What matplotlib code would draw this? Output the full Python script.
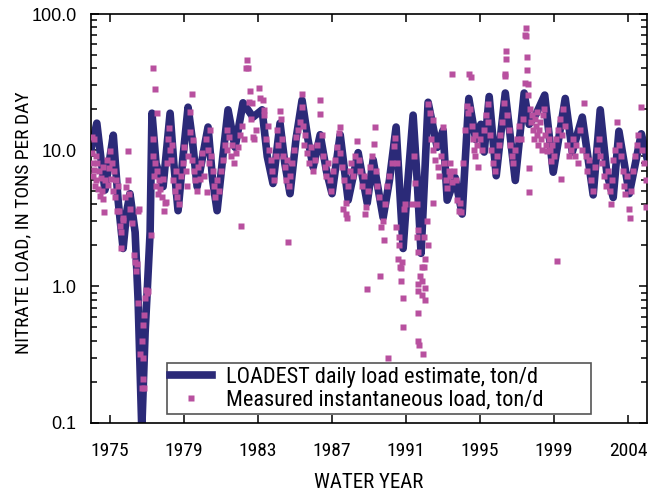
import matplotlib
matplotlib.use('Agg')
import matplotlib.pyplot as plt
from matplotlib.ticker import LogLocator, NullFormatter

NARROW = ['Roboto Condensed', 'DejaVu Sans']
REGULAR = ['Liberation Sans', 'DejaVu Sans']

NAVY = '#2b2a78'
PINK = '#b8509f'

# LOADEST daily load estimate (decimal water year, ton/d)
est_year = [1974.0, 1974.29, 1974.5, 1974.73, 1974.95, 1975.18, 1975.44, 1975.71,
            1975.9, 1976.08, 1976.36, 1976.52, 1976.72, 1976.9, 1976.99, 1977.17,
            1977.27, 1977.49, 1977.87, 1978.25, 1978.45, 1978.68, 1978.95, 1979.22,
            1979.45, 1979.71, 1980.3, 1980.55, 1980.79, 1981.1, 1981.38, 1981.76,
            1982.19, 1982.73, 1983.22, 1983.5, 1983.81, 1984.19, 1984.45, 1984.73,
            1985.05, 1985.38, 1985.7, 1985.98, 1986.36, 1986.7, 1987.0, 1987.44,
            1987.87, 1988.41, 1988.9, 1989.22, 1989.76, 1990.1, 1990.46, 1990.84,
            1991.1, 1991.38, 1991.6, 1991.81, 1992.19, 1992.68, 1993.0, 1993.22,
            1993.65, 1994.03, 1994.39, 1994.76, 1995.04, 1995.22, 1995.49, 1995.87,
            1996.36, 1996.9, 1997.38, 1997.65, 1998.03, 1998.49, 1998.95, 1999.6,
            1999.98, 2000.52, 2001.11, 2001.49, 2001.84, 2002.19, 2002.5, 2003.06,
            2003.71, 2004.0]
est_load = [10.5, 15.8, 9.0, 5.1, 8.0, 12.9, 4.3, 1.9,
            3.5, 4.8, 2.5, 0.8, 0.09, 0.46, 0.8, 2.5,
            18.7, 8.0, 5.4, 18.7, 8.0, 3.6, 9.0, 20.7,
            12.0, 5.4, 14.8, 6.0, 3.6, 9.0, 19.8, 10.5,
            22.3, 17.5, 19.8, 9.0, 5.7, 15.8, 8.0, 4.8,
            12.0, 23.3, 12.0, 7.5, 13.0, 7.0, 4.8, 13.0,
            4.3, 9.6, 4.1, 8.5, 3.2, 6.0, 14.8, 1.9,
            6.0, 18.1, 6.0, 1.75, 22.5, 10.5, 14.0, 4.3,
            6.3, 3.4, 24.0, 12.0, 15.5, 9.7, 24.8, 6.5,
            26.3, 6.0, 26.3, 15.5, 18.5, 25.4, 6.9, 24.0,
            9.7, 17.5, 4.7, 19.8, 6.9, 4.5, 13.8, 4.8,
            13.2, 9.0]

# measured instantaneous loads
meas_year = [
    1974.02, 1974.05, 1974.08, 1974.1, 1974.12, 1974.15, 1974.2, 1974.22, 1974.25, 1974.3,
    1974.35, 1974.4, 1974.45, 1974.5, 1974.55, 1974.6, 1974.65, 1974.7, 1974.75, 1974.82,
    1974.88, 1974.95, 1975.0, 1975.05, 1975.1, 1975.15, 1975.2, 1975.25, 1975.3, 1975.38,
    1975.45, 1975.5, 1975.55, 1975.6, 1975.62, 1975.68, 1975.72, 1975.8, 1975.88, 1975.96,
    1976.0, 1976.05, 1976.1, 1976.2, 1976.3, 1976.38, 1976.42, 1976.45, 1976.53, 1976.59,
    1976.54, 1976.95, 1977.07, 1976.9, 1976.84, 1976.8, 1976.72, 1976.63, 1976.8, 1976.77,
    1976.72, 1976.84, 1977.2, 1976.99,
    1977.35, 1977.44, 1977.53, 1979.42, 1979.33, 1979.5,
    1977.3, 1977.35, 1977.4, 1977.45, 1977.5, 1977.55, 1977.6, 1977.65, 1977.72, 1977.8,
    1977.85, 1977.9, 1978.0, 1978.05, 1978.1, 1978.15, 1978.2, 1978.25, 1978.3, 1978.35,
    1978.4, 1978.5, 1978.55, 1978.6, 1978.7, 1978.75, 1978.85, 1978.95, 1979.0, 1979.1,
    1979.15, 1979.2, 1979.3, 1979.45, 1979.55, 1979.6, 1979.7, 1979.75, 1979.85, 1979.9,
    1980.0, 1980.1, 1980.2, 1980.23, 1980.3, 1980.35, 1980.4, 1980.45, 1980.55, 1980.6,
    1980.7, 1980.8, 1980.9, 1981.0, 1981.1, 1981.2, 1981.3, 1981.35, 1981.45, 1981.55,
    1981.6, 1981.7, 1981.8, 1981.9, 1982.0, 1982.1, 1982.15, 1982.25, 1982.4, 1982.33,
    1982.47, 1982.57, 1982.5, 1982.65, 1982.6, 1982.75, 1982.8, 1982.9, 1983.05, 1983.13,
    1983.25, 1983.3, 1983.35, 1983.45, 1983.55, 1983.6, 1983.7, 1983.75, 1983.85, 1983.95,
    1984.05, 1984.1, 1984.2, 1984.22, 1984.3, 1984.35, 1984.45, 1984.5, 1984.55, 1984.6,
    1984.65, 1984.75, 1984.85, 1984.95, 1985.05, 1985.15, 1985.25, 1985.35, 1985.38, 1985.45,
    1985.5, 1985.55, 1985.65, 1985.75, 1985.85, 1985.95, 1986.1, 1986.2, 1986.33, 1986.37,
    1986.45, 1986.5, 1986.6, 1986.7, 1986.8, 1986.9, 1986.95, 1987.05, 1987.15, 1987.25,
    1987.35, 1987.42, 1987.45, 1987.55, 1987.6, 1987.65, 1987.75, 1987.8, 1987.78, 1987.85,
    1987.95, 1988.05, 1988.15, 1988.25, 1988.35, 1988.45, 1988.5, 1988.6, 1988.7, 1988.8,
    1988.85, 1988.88, 1988.95, 1989.05, 1989.15, 1989.25, 1989.3, 1989.35, 1989.45, 1989.55,
    1989.6, 1989.65, 1989.75, 1989.8, 1989.85, 1989.95, 1990.05, 1990.1, 1990.25, 1990.35,
    1990.4, 1990.45, 1990.5, 1990.55, 1990.6, 1990.62, 1990.65, 1990.7, 1990.72, 1990.8,
    1990.85, 1990.82, 1990.9, 1990.95,
    1991.31, 1991.45, 1991.49, 1991.58, 1991.67, 1991.67, 1991.67, 1991.67, 1991.67, 1991.58,
    1992.12, 1991.98, 1992.18, 1991.62, 1992.03, 1991.85, 1991.85, 1991.85, 1991.98, 1991.76,
    1992.0, 1992.04, 1991.71, 1991.89, 1992.21, 1992.3, 1992.48, 1992.48,
    1992.35, 1992.45, 1992.55, 1992.6, 1992.7, 1992.8, 1992.9, 1993.0, 1993.05, 1993.15,
    1993.2, 1993.3, 1993.35, 1993.4, 1993.47, 1993.5, 1993.6, 1993.7, 1993.75, 1993.85,
    1993.9, 1993.95,
    1994.1, 1994.2, 1994.3, 1994.35, 1994.41, 1994.45, 1994.5, 1994.55, 1994.6, 1994.65,
    1994.7, 1994.75, 1994.85, 1994.9, 1995.0, 1995.1, 1995.2, 1995.3, 1995.4, 1995.45,
    1995.55, 1995.6, 1995.7, 1995.8, 1995.9, 1996.0, 1996.1, 1996.2, 1996.3, 1996.33,
    1996.37, 1996.4, 1996.42, 1996.45, 1996.55, 1996.6, 1996.7, 1996.8, 1996.9, 1997.0,
    1997.1, 1997.2, 1997.3, 1997.45, 1997.48, 1997.5, 1997.52, 1997.55, 1997.45, 1997.6,
    1997.58, 1997.62, 1997.65, 1997.7, 1997.75, 1997.8, 1997.85, 1997.9, 1997.95, 1998.0,
    1998.05, 1998.1, 1998.15, 1998.2, 1998.25, 1998.3, 1998.35, 1998.4, 1998.45, 1998.5,
    1998.55, 1998.6, 1998.65, 1998.7, 1998.8, 1998.85, 1998.9, 1999.0, 1999.1, 1999.17,
    1999.2, 1999.3, 1999.35, 1999.4, 1999.5, 1999.6, 1999.7, 1999.8, 1999.9,
    2000.0, 2000.1, 2000.2, 2000.3, 2000.4, 2000.5, 2000.6, 2000.7, 2000.8, 2000.9,
    2001.0, 2001.1, 2001.2, 2001.3, 2001.4, 2001.5, 2001.6, 2001.7, 2001.8, 2001.9,
    2002.0, 2002.05, 2002.1, 2002.2, 2002.3, 2002.4, 2002.5, 2002.6, 2002.7, 2002.8,
    2002.85, 2002.95, 2003.05, 2003.1, 2003.15, 2003.25, 2003.35, 2003.45, 2003.55, 2003.7,
    2003.75, 2003.85, 2003.95, 2003.98]
meas_load = [
    9.5, 12.6, 8.0, 6.5, 12.0, 7.2, 5.5, 9.0, 6.0, 8.0,
    5.2, 7.0, 4.6, 6.3, 5.0, 7.5, 4.4, 3.5, 6.0, 8.5,
    5.6, 7.4, 9.8, 6.2, 8.0, 5.0, 7.0, 4.5, 6.0, 3.6,
    5.5, 3.6, 2.8, 2.5, 1.9, 3.2, 3.1, 4.5, 5.4, 9.8,
    6.0, 4.8, 3.7, 2.9, 1.7, 1.5, 1.3, 1.45, 3.6, 3.7,
    0.76, 0.94, 0.93, 0.82, 0.62, 0.52, 0.4, 0.32, 0.3, 0.21,
    0.18, 0.18, 2.4, 0.9,
    40.4, 28.0, 18.9, 25.7, 19.2, 11.9,
    12.0, 9.0, 6.5, 8.0, 5.5, 7.0, 4.8, 6.0, 5.2, 4.5,
    6.2, 3.6, 4.1, 4.2, 8.0, 12.0, 14.5, 10.0, 8.5, 11.0,
    6.0, 5.0, 7.0, 4.5, 5.5, 4.0, 6.5, 8.0, 10.5, 7.0,
    5.5, 9.0, 13.5, 8.5, 7.0, 6.0, 5.0, 7.5, 6.2, 8.0,
    9.5, 6.5, 12.0, 4.9, 10.0, 8.0, 14.0, 9.0, 7.0, 5.5,
    4.5, 6.0, 5.0, 7.0, 8.5, 11.0, 14.0, 10.0, 12.5, 9.0,
    11.0, 8.0, 9.5, 10.5, 13.0, 2.8, 15.0, 12.0, 45.9, 39.9,
    40.4, 27.2, 22.7, 22.1, 17.0, 12.5, 12.0, 14.0, 28.7, 24.2,
    23.3, 19.8, 18.0, 12.0, 15.0, 10.0, 8.5, 7.0, 6.0, 9.0,
    14.0, 11.0, 19.5, 17.0, 12.0, 9.0, 7.5, 6.0, 8.5, 2.13,
    5.5, 6.5, 8.0, 10.0, 12.5, 14.0, 16.0, 20.6, 26.0, 15.0,
    11.0, 13.0, 9.5, 8.0, 10.5, 7.0, 8.5, 11.0, 23.2, 18.5,
    13.0, 9.0, 7.5, 6.5, 8.0, 6.0, 5.0, 7.0, 8.5, 10.5,
    13.3, 14.7, 9.5, 7.5, 3.7, 6.0, 3.4, 3.2, 4.1, 5.5,
    7.0, 8.0, 6.5, 9.0, 11.6, 8.5, 7.0, 5.5, 6.5, 3.4,
    3.8, 0.95, 5.0, 7.5, 9.0, 11.2, 14.8, 7.0, 5.5, 4.5,
    1.2, 2.75, 3.0, 2.2, 4.0, 5.5, 0.3, 6.5, 8.0, 10.7,
    12.3, 2.75, 8.0, 1.6, 2.3, 2.0, 1.4, 1.1, 1.37, 1.5,
    0.82, 0.5, 3.7, 4.0,
    4.0, 9.0, 5.7, 4.0, 2.6, 0.93, 0.64, 0.4, 1.05, 2.3,
    3.0, 2.3, 2.0, 1.8, 1.6, 1.4, 1.1, 0.86, 1.4, 1.2,
    0.97, 0.8, 0.37, 0.32, 22.0, 18.7, 16.7, 4.1,
    12.0, 10.0, 8.5, 11.0, 7.5, 6.5, 9.0, 14.7, 8.0, 6.0,
    5.3, 7.0, 6.5, 8.0, 36.3, 5.8, 7.0, 6.0, 4.3, 3.6,
    4.1, 3.5,
    8.0, 14.0, 21.0, 18.7, 36.3, 20.0, 34.7, 15.0, 12.0, 10.0,
    13.0, 9.0, 11.0, 7.5, 12.0, 10.0, 14.0, 18.0, 22.0, 16.0,
    13.0, 10.0, 8.0, 7.0, 9.0, 11.0, 13.0, 16.0, 22.3, 36.3,
    35.2, 53.5, 47.0, 18.0, 14.0, 11.0, 9.0, 8.0, 10.0, 12.0,
    15.0, 12.0, 17.0, 70.7, 78.5, 68.7, 48.5, 38.8, 31.2, 30.4,
    25.5, 7.4, 4.9, 20.0, 16.0, 18.0, 14.0, 12.0, 17.0, 15.0,
    13.0, 19.0, 11.0, 14.0, 16.0, 12.0, 10.0, 18.0, 20.0, 13.0,
    11.0, 9.8, 14.0, 12.0, 10.0, 8.4, 11.0, 9.0, 12.0, 1.55,
    14.0, 17.0, 6.1, 13.0, 20.0, 15.0, 11.0, 9.0, 10.0,
    12.0, 9.0, 11.0, 8.0, 14.0, 10.0, 22.4, 9.0, 7.0, 8.5,
    6.0, 5.0, 7.5, 10.0, 12.0, 9.0, 8.0, 6.5, 5.5, 7.0,
    5.0, 4.0, 6.0, 8.5, 10.0, 16.0, 11.0, 9.0, 7.0, 5.5,
    4.8, 6.5, 3.7, 3.2, 5.0, 7.0, 9.0, 11.0, 13.0, 20.6,
    10.0, 8.0, 6.0, 3.8]

tick_years = [1975, 1979, 1983, 1987, 1991, 1995, 1999, 2003]
tick_labels = ['1975', '1979', '1983', '1987', '1991', '1995', '1999', '2004']

fig = plt.figure(figsize=(6.55, 4.92), dpi=100)
ax = fig.add_axes([0.1382, 0.1409, 0.8491, 0.8306])

ax.plot(est_year, est_load, color=NAVY, lw=5.5, solid_joinstyle='round',
        label='LOADEST daily load estimate, ton/d', zorder=2)
ax.plot(meas_year, meas_load, ls='none', marker='s', ms=4.2, mec='none', mfc=PINK,
        label='Measured instantaneous load, ton/d', zorder=3)

ax.set_yscale('log')
ax.set_ylim(0.1, 100)
ax.set_xlim(1973.95, 2004.0)
ax.set_yticks([0.1, 1, 10, 100])
ax.set_yticklabels(['0.1', '1.0', '10.0', '100.0'], family=REGULAR, fontsize=13)
ax.yaxis.set_minor_locator(LogLocator(base=10, subs=range(2, 10)))
ax.yaxis.set_minor_formatter(NullFormatter())
ax.set_xticks(tick_years)
ax.set_xticklabels(tick_labels, family=NARROW, fontsize=14)

ax.tick_params(which='both', direction='in', top=True, right=True, width=1.1)
ax.tick_params(which='major', length=6)
ax.tick_params(which='minor', length=4)
ax.tick_params(axis='x', pad=14)
ax.tick_params(axis='y', pad=10)
for s in ax.spines.values():
    s.set_linewidth(1.2)

ax.set_xlabel('WATER YEAR', family=NARROW, fontsize=15, labelpad=9)
ax.set_ylabel('NITRATE LOAD, IN TONS PER DAY', family=NARROW, fontsize=14)
ax.yaxis.set_label_coords(-0.105, 0.49)

leg = ax.legend(loc='lower left', bbox_to_anchor=(0.137, 0.021, 0.763, 0.12), mode='expand',
                fancybox=False, framealpha=1, edgecolor='#555555', borderpad=0.15,
                labelspacing=0.1, handlelength=1.9, handletextpad=0.6, borderaxespad=0,
                prop={'family': NARROW, 'size': 16})
leg.get_frame().set_linewidth(1.2)

plt.savefig('out.png', dpi=100)
